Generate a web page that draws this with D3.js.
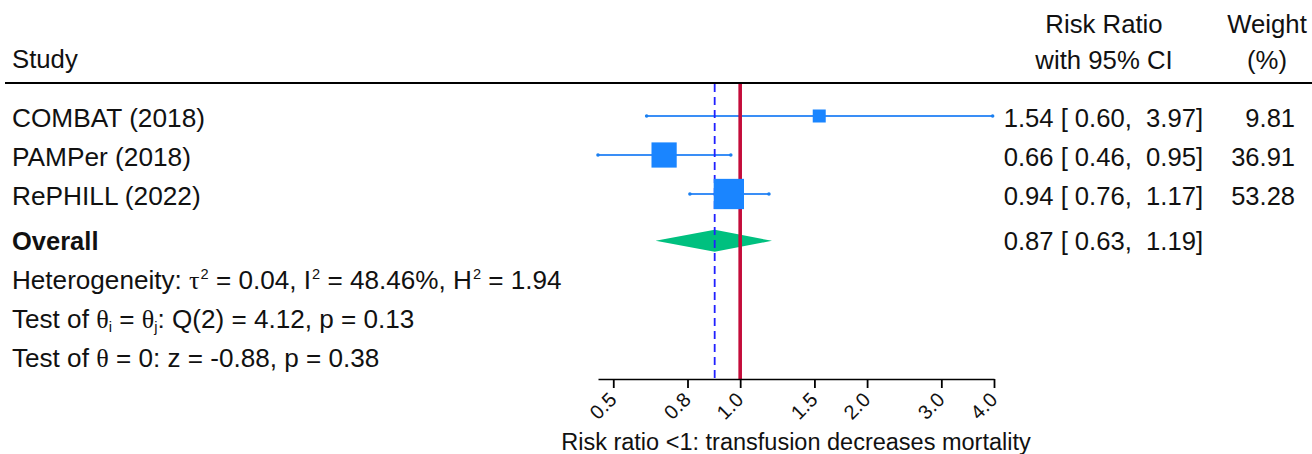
<!DOCTYPE html>
<html>
<head>
<meta charset="utf-8">
<script src="https://cdn.jsdelivr.net/npm/d3@7"></script>
<style>
  html, body { margin: 0; padding: 0; background: #fff; }
  svg text { font-family: "Liberation Sans", Arial, sans-serif; fill: #111; white-space: pre; }
</style>
</head>
<body>
<div id="chart"></div>
<script>
// Forest plot: risk ratio of mortality, transfusion trials
const studies = ['COMBAT (2018)', 'PAMPer (2018)', 'RePHILL (2022)'];
const rr = [1.54, 0.66, 0.94];
const lower = [0.60, 0.46, 0.76];
const upper = [3.97, 0.95, 1.17];
const weights = [9.81, 36.91, 53.28];

const overallLabel = 'Overall';
const overallEst = [0.87, 0.63, 1.19]; // estimate, lower, upper

const tickValues = [0.5, 0.75, 1, 1.5, 2, 3, 4];
const tickLabels = ['0.5', '0.8', '1.0', '1.5', '2.0', '3.0', '4.0'];
const axisTitle = 'Risk ratio <1: transfusion decreases mortality';

// stat lines, split into pieces for greek letters / sub- and superscripts
const statLines = [
  [['Heterogeneity: '], ['τ', 'g'], ['2', 'sup'], [' = 0.04, I'], ['2', 'sup'], [' = 48.46%, H'], ['2', 'sup'], [' = 1.94']],
  [['Test of '], ['θ', 'g'], ['i', 'sub'], [' = '], ['θ', 'g'], ['j', 'sub'], [': Q(2) = 4.12, p = 0.13']],
  [['Test of '], ['θ', 'g'], [' = 0: z = -0.88, p = 0.38']]
];

const width = 1312, height = 454;
const fs = 25;

const svg = d3.select('#chart').append('svg')
  .attr('width', width).attr('height', height)
  .attr('viewBox', `0 0 ${width} ${height}`);

// text placed at (tx,ty), stretched a little horizontally like the original
function label(tx, ty, str, anchor = 'start', sx = 1.05) {
  return svg.append('text')
    .attr('transform', `translate(${tx},${ty}) scale(${sx},1)`)
    .attr('font-size', fs)
    .attr('text-anchor', anchor)
    .text(str);
}

const x = d3.scaleLog()
  .domain([d3.min(lower), d3.max(tickValues)])
  .range([598, 994]);

// row index -> y (studies 0..2, overall 3.2, stats 4.2..6.2)
const y = d3.scaleLinear().domain([0, 6.2]).range([116, 357.8]);
const overallRow = 3.2;
const axisY = 379;

const size = d3.scaleSqrt().domain([0, 100]).range([0, 41.5]);

// header
label(12, 68, 'Study', 'start', 1.03);
label(1104, 33, 'Risk Ratio', 'middle', 1.03);
label(1104, 69, 'with 95% CI', 'middle', 1.03);
label(1267, 33, 'Weight', 'middle', 1.03);
label(1267, 69, '(%)', 'middle', 1.03);

svg.append('line')
  .attr('x1', 5).attr('x2', width)
  .attr('y1', 83).attr('y2', 83)
  .attr('stroke', '#000').attr('stroke-width', 2.2);

const fmt = d3.format('.2f');

// study rows
studies.forEach((s, i) => {
  label(12, y(i) + 10.5, s);
  label(1203, y(i) + 10.5, `${fmt(rr[i])} [ ${fmt(lower[i])},  ${fmt(upper[i])}]`, 'end', 1.025);
  label(1295, y(i) + 10.5, fmt(weights[i]), 'end', 1.02);
});

// overall row
label(12, y(overallRow) + 9, overallLabel, 'start', 1.02).attr('font-weight', 'bold');
label(1203, y(overallRow) + 9, `${fmt(overallEst[0])} [ ${fmt(overallEst[1])},  ${fmt(overallEst[2])}]`, 'end', 1.025);

// stats
statLines.forEach((parts, k) => {
  const t = label(12, y(overallRow + 1 + k) + 9, '', 'start', 1.045);
  let shift = 0;
  parts.forEach(([str, kind]) => {
    const ts = t.append('tspan').text(str);
    if (kind === 'g') ts.style('font-family', '"Liberation Serif", "DejaVu Serif", serif');
    if (kind === 'sup') { ts.attr('font-size', 14).attr('dy', -10 - shift).attr('dx', 1); shift = -10; }
    else if (kind === 'sub') { ts.attr('font-size', 14).attr('dy', 4 - shift); shift = 4; }
    else if (shift !== 0) { ts.attr('dy', -shift); shift = 0; }
  });
});

// CI lines
const ciColor = '#3a8ef6';
studies.forEach((s, i) => {
  svg.append('line')
    .attr('x1', x(lower[i])).attr('x2', x(upper[i]))
    .attr('y1', y(i)).attr('y2', y(i))
    .attr('stroke', ciColor).attr('stroke-width', 2.2);
  [lower[i], upper[i]].forEach(v => {
    svg.append('circle').attr('cx', x(v)).attr('cy', y(i)).attr('r', 1.8).attr('fill', '#1a7ff0');
  });
});

// overall diamond
const dy = y(overallRow);
svg.append('polygon')
  .attr('points', [
    [x(overallEst[1]), dy], [x(overallEst[0]), dy - 11],
    [x(overallEst[2]), dy], [x(overallEst[0]), dy + 11]
  ].map(p => p.join(',')).join(' '))
  .attr('fill', '#00c07f');

// reference lines
svg.append('line')
  .attr('x1', x(overallEst[0])).attr('x2', x(overallEst[0]))
  .attr('y1', 84).attr('y2', axisY)
  .attr('stroke', '#2020ff').attr('stroke-width', 1.8)
  .attr('stroke-dasharray', '8,5');
svg.append('line')
  .attr('x1', x(1)).attr('x2', x(1))
  .attr('y1', 84).attr('y2', axisY)
  .attr('stroke', '#c40c3a').attr('stroke-width', 3.6);

// squares
studies.forEach((s, i) => {
  const w = size(weights[i]);
  svg.append('rect')
    .attr('x', x(rr[i]) - w / 2).attr('y', y(i) - w / 2)
    .attr('width', w).attr('height', w)
    .attr('fill', '#1a85ff');
});

// axis
const axis = d3.axisBottom(x)
  .tickValues(tickValues)
  .tickFormat((d, i) => tickLabels[i])
  .tickSize(9)
  .tickSizeOuter(0);

const gAxis = svg.append('g').attr('transform', `translate(0,${axisY})`).call(axis);
gAxis.select('.domain').attr('stroke', '#000').attr('stroke-width', 1.6);
gAxis.selectAll('.tick line').attr('stroke', '#000').attr('stroke-width', 1.8);
gAxis.selectAll('.tick text')
  .attr('font-family', '"Liberation Sans", Arial, sans-serif')
  .attr('font-size', 20)
  .attr('fill', '#111')
  .attr('text-anchor', 'end')
  .attr('x', 0).attr('y', 0).attr('dy', null)
  .attr('transform', 'translate(4,22) rotate(-45)');

svg.append('text')
  .attr('x', (x.range()[0] + x.range()[1]) / 2)
  .attr('y', 450)
  .attr('font-size', 23.5)
  .attr('text-anchor', 'middle')
  .text(axisTitle);
</script>
</body>
</html>
